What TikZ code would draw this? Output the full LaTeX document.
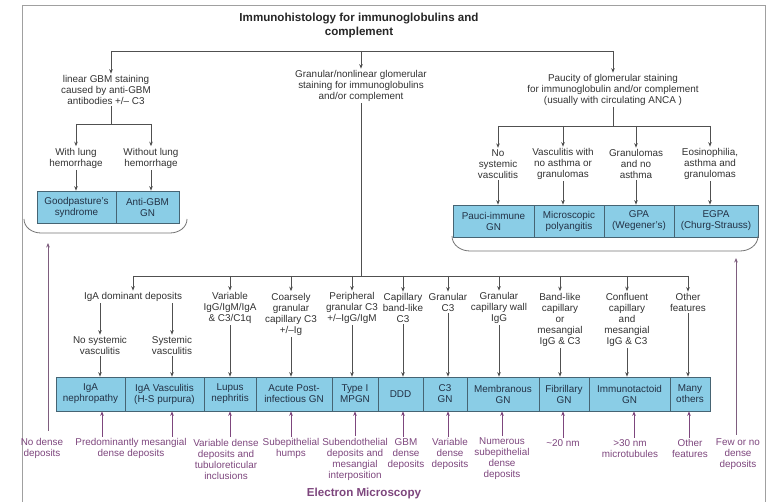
\documentclass[tikz,border=0pt]{standalone}
\usepackage{fontspec}
\setmainfont{Liberation Sans}
\usetikzlibrary{arrows.meta}

\definecolor{cellblue}{RGB}{138,205,230}
\definecolor{cellline}{RGB}{70,100,115}
\definecolor{celltext}{RGB}{35,50,70}
\definecolor{ink}{RGB}{50,50,50}
\definecolor{wirecol}{RGB}{80,80,80}
\definecolor{emviolet}{RGB}{125,70,125}
\definecolor{framegray}{RGB}{160,160,160}

\tikzset{
  lbl/.style={font=\fontsize{9.9}{11}\selectfont, align=center, text=ink, inner sep=1.5pt},
  emlbl/.style={lbl, text=emviolet},
  cell/.style={draw=cellline, fill=cellblue, line width=0.7pt, inner sep=0pt,
               align=center, text=celltext, font=\fontsize{9.9}{11}\selectfont},
  wire/.style={draw=wirecol, line width=0.8pt},
  arr/.style={wire, -{Stealth[length=4.5pt,width=3.6pt]}},
  emarr/.style={draw=emviolet, line width=0.8pt, -{Stealth[length=4.5pt,width=3.6pt]}},
  brace/.style={draw=wirecol!80, line width=0.8pt},
}

\begin{document}
\begin{tikzpicture}[x=1pt,y=-1pt]
\useasboundingbox (0,0) rectangle (769,502);

% outer frame
\draw[framegray, line width=0.8pt] (22,502) -- (22,5) -- (765,5) -- (765,502);

% title
\node[font=\fontsize{11.6}{14}\selectfont\bfseries, text=black!85, align=center]
  (title) at (359,26) {Immunohistology for immunoglobulins and\\complement};

% first-level branches
\coordinate (barL) at (111,51);
\coordinate (barM) at (361,51);
\coordinate (barR) at (613,51);
\node[lbl] (lin)  at (106,90) {linear GBM staining\\caused by anti-GBM\\antibodies +/– C3};
\node[lbl] (gran) at (361,86) {Granular/nonlinear glomerular\\staining for immunoglobulins\\and/or complement};
\node[lbl] (pauc) at (613,90) {Paucity of glomerular staining\\for immunoglobulin and/or complement\\(usually with circulating ANCA )};
\draw[wire] (barL) -- (barR);
\draw[arr] (barL) -- (barL |- lin.north);
\draw[arr] (barM) -- (gran.north);
\draw[arr] (barR) -- (pauc.north);

% ---------- anti-GBM branch ----------
\coordinate (linsplit) at (111,124);
\node[lbl] (wl)  at (76,158)  {With lung\\hemorrhage};
\node[lbl] (wol) at (151,158) {Without lung\\hemorrhage};
\draw[wire] (lin.south -| linsplit) -- (linsplit);
\draw[wire] (wl |- linsplit) -- (wol |- linsplit);
\draw[arr] (wl |- linsplit) -- (wl.north);
\draw[arr] (wol |- linsplit) -- (wol.north);

\node[cell, minimum width=79pt, minimum height=32pt] (gp)   at (76.5,207)  {Goodpasture's\\syndrome};
\node[cell, minimum width=63pt, minimum height=32pt] (agbm) at (147.5,207) {Anti-GBM\\GN};
\draw[arr] (wl.south) -- (wl.south |- gp.north);
\draw[arr] (wol.south) -- (wol.south |- agbm.north);

\draw[brace] (24,219) to[out=-90,in=180] (41,233) -- (170,233) to[out=0,in=-90] (187,219);

% ---------- pauci-immune branch ----------
\coordinate (rsplit) at (613,126);
\node[lbl] (ns) at (498,164) {No\\systemic\\vasculitis};
\node[lbl] (vw) at (563,164) {Vasculitis with\\no asthma or\\granulomas};
\node[lbl] (gn) at (636,164) {Granulomas\\and no\\asthma};
\node[lbl] (eo) at (710,164) {Eosinophilia,\\asthma and\\granulomas};
\draw[wire] (pauc.south) -- (rsplit);
\draw[wire] (ns |- rsplit) -- (eo |- rsplit);
\foreach \t in {ns,vw,gn,eo} \draw[arr] (\t |- rsplit) -- (\t.north);

\node[cell, minimum width=81pt, minimum height=32pt] (pauci) at (493.5,221) {Pauci-immune\\GN};
\node[cell, minimum width=70pt, minimum height=32pt] (micro) at (569,221)   {Microscopic\\polyangitis};
\node[cell, minimum width=70pt, minimum height=32pt] (gpa)   at (639,221)   {GPA\\(Wegener's)};
\node[cell, minimum width=84pt, minimum height=32pt] (egpa)  at (716,221)   {EGPA\\(Churg-Strauss)};
\draw[arr] (ns.south) -- (ns.south |- pauci.north);
\draw[arr] (vw.south) -- (vw.south |- micro.north);
\draw[arr] (gn.south) -- (gn.south |- gpa.north);
\draw[arr] (eo.south) -- (eo.south |- egpa.north);

\draw[brace] (452,236) to[out=-90,in=180] (470,251) -- (740,251) to[out=0,in=-90] (758,236);

% ---------- immune-complex branch ----------
\coordinate (mbL) at (133,276);
\coordinate (mbR) at (688,276);
\draw[wire] (gran.south) -- (gran.south |- mbL);
\draw[wire] (mbL) -- (mbR);

\node[lbl] (iga)  at (133,297)   {IgA dominant deposits};
\node[lbl] (var)  at (230,308)   {Variable\\IgG/IgM/IgA\\\& C3/C1q};
\node[lbl] (coa)  at (291,314)   {Coarsely\\granular\\capillary C3\\+/–Ig};
\node[lbl] (per)  at (352,308)   {Peripheral\\granular C3\\+/–IgG/IgM};
\node[lbl] (cap)  at (403,308)   {Capillary\\band-like\\C3};
\node[lbl] (gc3)  at (448,302.5) {Granular\\C3};
\node[lbl] (gcw)  at (499,308)   {Granular\\capillary wall\\IgG};
\node[lbl] (band) at (560,319.5) {Band-like\\capillary\\or\\mesangial\\IgG \& C3};
\node[lbl] (conf) at (627,319.5) {Confluent\\capillary\\and\\mesangial\\IgG \& C3};
\node[lbl] (oth)  at (688,302.5) {Other\\features};
\foreach \t in {iga,var,coa,per,cap,gc3,gcw,band,conf,oth} \draw[arr] (\t |- mbL) -- (\t.north);

\node[lbl] (nsv) at (100,345.5) {No systemic\\vasculitis};
\node[lbl] (sv)  at (172,345.5) {Systemic\\vasculitis};
\draw[arr] (iga.south -| nsv) -- (nsv.north);
\draw[arr] (iga.south -| sv) -- (sv.north);

% diagnosis row
\node[cell, minimum width=69pt, minimum height=34pt] (iganeph) at (90.5,394)  {IgA\\nephropathy};
\node[cell, minimum width=79pt, minimum height=34pt] (igav)    at (164.5,394) {IgA Vasculitis\\(H-S purpura)};
\node[cell, minimum width=52pt, minimum height=34pt] (lupus)   at (230,394)   {Lupus\\nephritis};
\node[cell, minimum width=76pt, minimum height=34pt] (apgn)    at (294,394)   {Acute Post-\\infectious GN};
\node[cell, minimum width=46pt, minimum height=34pt] (mpgn)    at (355,394)   {Type I\\MPGN};
\node[cell, minimum width=45pt, minimum height=34pt] (ddd)     at (400.5,394) {DDD};
\node[cell, minimum width=44pt, minimum height=34pt] (c3gn)    at (445,394)   {C3\\GN};
\node[cell, minimum width=72pt, minimum height=34pt] (memb)    at (503,394)   {Membranous\\GN};
\node[cell, minimum width=50pt, minimum height=34pt] (fib)     at (564,394)   {Fibrillary\\GN};
\node[cell, minimum width=81pt, minimum height=34pt] (immu)    at (629.5,394) {Immunotactoid\\GN};
\node[cell, minimum width=40pt, minimum height=34pt] (many)    at (690,394)   {Many\\others};

\draw[arr] (nsv.south) -- (nsv.south |- iganeph.north);
\draw[arr] (sv.south)  -- (sv.south |- igav.north);
\draw[arr] (var.south) -- (var.south |- lupus.north);
\draw[arr] (coa.south) -- (coa.south |- apgn.north);
\draw[arr] (per.south) -- (per.south |- mpgn.north);
\draw[arr] (cap.south) -- (cap.south |- ddd.north);
\draw[arr] (gc3.south) -- (gc3.south |- c3gn.north);
\draw[arr] (gcw.south) -- (gcw.south |- memb.north);
\draw[arr] (band.south) -- (band.south |- fib.north);
\draw[arr] (conf.south) -- (conf.south |- immu.north);
\draw[arr] (oth.south) -- (oth.south |- many.north);

% ---------- electron microscopy findings ----------
\node[emlbl] (nodense) at (42,448.5)  {No dense\\deposits};
\node[emlbl] (em1)  at (131,448.5) {Predominantly mesangial\\dense deposits};
\node[emlbl] (em2)  at (226,459)   {Variable dense\\deposits and\\tubuloreticular\\inclusions};
\node[emlbl] (em3)  at (291,448.5) {Subepithelial\\humps};
\node[emlbl] (em4)  at (355,459)   {Subendothelial\\deposits and\\mesangial\\interposition};
\node[emlbl] (em5)  at (406,454)   {GBM\\dense\\deposits};
\node[emlbl] (em6)  at (450,454)   {Variable\\dense\\deposits};
\node[emlbl] (em7)  at (502,459)   {Numerous\\subepithelial\\dense\\deposits};
\node[emlbl] (em8)  at (563,443)   {\textasciitilde20 nm};
\node[emlbl] (em9)  at (630,448.5) {>30 nm\\microtubules};
\node[emlbl] (em10) at (690,448.5) {Other\\features};
\node[emlbl] (fewno) at (738,454)  {Few or no\\dense\\deposits};

\draw[emarr] ([xshift=-29pt]em1.north) -- ([xshift=-29pt]em1.north |- iganeph.south);
\draw[emarr] ([xshift=41pt]em1.north)  -- ([xshift=41pt]em1.north |- igav.south);
\draw[emarr] ([xshift=4pt]em2.north) -- ([xshift=4pt]em2.north |- lupus.south);
\draw[emarr] (em3.north) -- (em3.north |- apgn.south);
\draw[emarr] (em4.north) -- (em4.north |- mpgn.south);
\draw[emarr] ([xshift=-3pt]em5.north) -- ([xshift=-3pt]em5.north |- ddd.south);
\draw[emarr] ([xshift=-2pt]em6.north) -- ([xshift=-2pt]em6.north |- c3gn.south);
\draw[emarr] (em7.north) -- (em7.north |- memb.south);
\draw[emarr] (em8.north) -- (em8.north |- fib.south);
\draw[emarr] ([xshift=4pt]em9.north) -- ([xshift=4pt]em9.north |- immu.south);
\draw[emarr] ([xshift=-1pt]em10.north) -- ([xshift=-1pt]em10.north |- many.south);

\coordinate (gbmbrace) at (48,243);
\coordinate (ancabrace) at (736,258);
\draw[emarr, draw=emviolet!60!gray, shorten <=6pt] ([xshift=6pt]nodense.north) -- (gbmbrace);
\draw[emarr, draw=emviolet!60!gray, shorten <=2pt] ([xshift=-2pt]fewno.north) -- (ancabrace);

\node[font=\fontsize{11.6}{14}\selectfont\bfseries, text=emviolet] (emtitle) at (364,494) {Electron Microscopy};

\end{tikzpicture}
\end{document}
